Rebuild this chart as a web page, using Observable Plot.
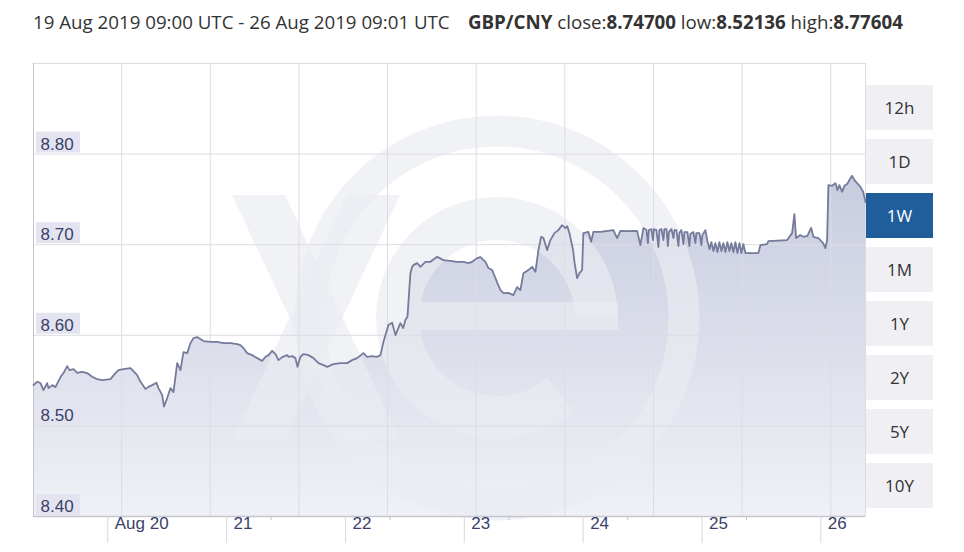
<!DOCTYPE html>
<html><head><meta charset="utf-8">
<script src="https://cdn.jsdelivr.net/npm/d3@7"></script>
<script src="https://cdn.jsdelivr.net/npm/@observablehq/plot@0.6"></script>
<style>
body{margin:0;background:#fff;}
#wrap{position:relative;width:964px;height:552px;overflow:hidden;font-family:"Open Sans",sans-serif;}
#hdr{position:absolute;left:33px;top:11px;line-height:22px;color:#333;white-space:nowrap;}
#hdr2{position:absolute;left:468px;top:11px;line-height:22px;color:#333;white-space:nowrap;}
#hdr b,#hdr2 b{font-weight:700;}
#chart{position:absolute;left:0;top:50px;}
.btn{position:absolute;left:866px;width:67px;height:45px;background:#efeff4;color:#333;font-size:17px;display:flex;align-items:center;justify-content:center;}
.btn.on{background:#1f5d9b;color:#fff;}
</style></head>
<body><div id="wrap"><div id="hdr"></div><div id="hdr2"></div><div id="chart"></div></div>
<script>
// ---- data (hours after 19 Aug 2019 09:00 UTC, GBP/CNY rate) ----
const hours = [0.00,0.75,1.41,2.02,2.77,3.03,3.78,4.44,5.45,6.06,6.80,7.27,8.08,8.82,9.83,10.84,11.85,12.86,13.87,15.55,
16.56,17.16,18.17,19.59,20.19,20.94,21.61,22.62,23.22,23.97,24.84,25.24,25.99,26.35,27.00,27.66,28.27,29.02,29.68,30.29,
31.04,31.70,32.31,33.05,34.33,35.74,37.09,38.36,39.78,41.13,41.80,42.40,43.15,44.16,45.17,46.18,46.85,47.45,48.20,48.86,
49.47,50.22,51.23,51.49,52.24,52.90,53.31,53.91,54.52,55.53,56.54,57.55,58.56,59.30,60.58,61.99,63.34,64.35,65.36,66.63,
67.38,68.39,69.40,70.07,70.61,71.08,71.68,72.43,73.10,74.10,74.65,75.11,75.52,76.12,76.47,76.73,77.48,78.14,79.15,80.16,
81.52,82.79,84.20,85.56,86.83,87.84,88.58,89.59,90.26,91.27,91.87,92.62,93.29,93.69,94.30,94.90,95.91,96.92,97.67,98.33,
98.94,99.95,100.70,101.36,101.97,102.51,102.98,103.73,104.39,105.20,106.01,106.75,107.42,107.77,108.23,108.98,109.24,109.78,110.25,110.79,
111.05,112.06,112.61,113.07,114.49,117.11,117.86,118.53,120.14,121.90,122.56,123.17,123.78,124.08,124.28,124.79,125.09,125.29,125.80,126.20,
126.41,126.81,127.21,127.41,127.82,128.12,128.32,128.83,129.23,129.43,129.83,130.24,130.44,130.84,131.25,131.45,132.06,132.46,132.66,133.27,
133.67,133.87,134.48,134.88,135.08,135.69,136.09,136.50,136.90,137.30,137.71,138.11,138.52,138.92,139.32,139.73,140.13,140.54,140.94,141.34,
141.75,142.15,142.56,142.96,143.36,143.77,144.37,146.39,146.80,148.15,148.41,152.19,153.20,153.66,154.00,154.87,155.48,156.29,157.04,157.50,
158.51,159.46,159.92,160.27,160.53,161.28,161.94,162.35,162.75,163.30,163.76,164.31,164.77,165.32,165.78,166.33,166.99,167.54,168.02];
const rates = [8.5450,8.5487,8.5472,8.5395,8.5472,8.5417,8.5450,8.5428,8.5539,8.5583,8.5660,8.5616,8.5627,8.5586,8.5597,8.5583,8.5542,8.5517,8.5505,8.5517,
8.5583,8.5616,8.5627,8.5638,8.5605,8.5561,8.5487,8.5406,8.5431,8.5450,8.5476,8.5417,8.5340,8.5214,8.5307,8.5417,8.5373,8.5693,8.5616,8.5814,
8.5803,8.5914,8.5969,8.5980,8.5936,8.5928,8.5928,8.5914,8.5914,8.5903,8.5892,8.5859,8.5803,8.5781,8.5748,8.5718,8.5763,8.5781,8.5829,8.5792,
8.5726,8.5759,8.5781,8.5763,8.5770,8.5748,8.5652,8.5763,8.5792,8.5781,8.5748,8.5693,8.5671,8.5652,8.5682,8.5693,8.5693,8.5726,8.5748,8.5803,
8.5763,8.5770,8.5763,8.5781,8.5914,8.6002,8.6113,8.6138,8.6002,8.6135,8.6079,8.6168,8.6204,8.6686,8.6756,8.6775,8.6797,8.6756,8.6811,8.6811,
8.6866,8.6830,8.6822,8.6811,8.6811,8.6797,8.6811,8.6852,8.6863,8.6811,8.6742,8.6720,8.6631,8.6576,8.6499,8.6466,8.6469,8.6444,8.6532,8.6499,
8.6686,8.6720,8.6756,8.6701,8.6940,8.7087,8.7073,8.6940,8.7051,8.7128,8.7161,8.7216,8.7183,8.7205,8.7128,8.6940,8.6811,8.6631,8.6686,8.6720,
8.7128,8.7142,8.7032,8.7142,8.7142,8.7161,8.7073,8.7153,8.7150,8.7153,8.6996,8.7183,8.7161,8.7018,8.7161,8.7172,8.7051,8.7172,8.7161,8.6973,
8.7161,8.7172,8.7051,8.7172,8.7172,8.6985,8.7139,8.7172,8.7073,8.7161,8.7161,8.6985,8.7128,8.7161,8.7007,8.7139,8.7139,8.6985,8.7117,8.7139,
8.7018,8.7128,8.7128,8.6996,8.7106,8.7161,8.7040,8.6951,8.7029,8.6929,8.7018,8.6918,8.7029,8.6929,8.7018,8.6918,8.7029,8.6929,8.7018,8.6918,
8.7029,8.6907,8.7018,8.6907,8.7007,8.6907,8.6907,8.6907,8.6996,8.7007,8.7040,8.7051,8.7128,8.7338,8.7073,8.7106,8.7087,8.7098,8.7187,8.7087,
8.7073,8.7018,8.6962,8.7051,8.7658,8.7650,8.7680,8.7603,8.7658,8.7584,8.7650,8.7669,8.7713,8.7760,8.7713,8.7680,8.7639,8.7584,8.7470];
const yTicks = [8.40, 8.50, 8.60, 8.70, 8.80];
const gridHours = [17.8, 35.7, 53.6, 71.5, 89.4, 107.3, 125.2, 143.1, 161.0];
const dayLabels = ["Aug 20", "21", "22", "23", "24", "25", "26"];
const buttons = ["12h", "1D", "1W", "1M", "1Y", "2Y", "5Y", "10Y"];
const activeButton = "1W";
const rangeText = "19 Aug 2019 09:00 UTC - 26 Aug 2019 09:01 UTC";
const pair = "GBP/CNY";
const closeVal = "8.74700", lowVal = "8.52136", highVal = "8.77604";
const totalHours = 168.02;

// ---- header ----
const hdr = document.getElementById("hdr");
hdr.textContent = rangeText;
const hdr2 = document.getElementById("hdr2");
hdr2.innerHTML = `<b>${pair}</b> close:<b>${closeVal}</b> low:<b>${lowVal}</b> high:<b>${highVal}</b>`;
hdr.style.fontSize = hdr2.style.fontSize = "16px";
const w1 = hdr.getBoundingClientRect().width;
const fs = 16 * 417 / w1;
hdr.style.fontSize = hdr2.style.fontSize = fs + "px";

// ---- buttons ----
const wrap = document.getElementById("wrap");
buttons.forEach((b, i) => {
  const d = document.createElement("div");
  d.className = "btn" + (b === activeButton ? " on" : "");
  d.style.top = (85 + 54 * i) + "px";
  d.textContent = b;
  wrap.appendChild(d);
});

// ---- chart ----
const start = Date.UTC(2019, 7, 19, 9);
const toDate = h => new Date(start + h * 3600e3);
const data = hours.map((h, i) => ({date: toDate(h), rate: rates[i]}));
const dayDates = dayLabels.map((_, i) => new Date(Date.UTC(2019, 7, 20 + i)));
const nineDates = d3.range(1, 7).map(i => new Date(Date.UTC(2019, 7, 19 + i, 9)));
const gridDates = gridHours.map(toDate);
const labelColor = "#3b3f6b";

const defs = (index, scales, values, dims) => {
  const g = d3.create("svg:defs");
  const lg = g.append("linearGradient").attr("id", "fillGrad")
    .attr("gradientUnits", "userSpaceOnUse").attr("x1", 0).attr("x2", 0)
    .attr("y1", dims.marginTop).attr("y2", dims.height - dims.marginBottom);
  lg.append("stop").attr("offset", "0%").attr("stop-color", "#babfd7");
  lg.append("stop").attr("offset", "100%").attr("stop-color", "#f0f1f6");
  return g.node();
};

const watermark = (index, scales, values, dims) => {
  const ox = dims.marginLeft, oy = dims.marginTop;
  const g = d3.create("svg:g").attr("fill", "#ebecf2").attr("fill-opacity", 0.68)
    .attr("transform", `translate(${ox},${oy})`);
  // decorative "xe" logo, relative to the frame's top-left corner
  const cx = 464, cy = 255;
  g.append("circle").attr("cx", cx).attr("cy", cy).attr("r", 187)
    .attr("fill", "none").attr("stroke", "#ebecf2").attr("stroke-opacity", 0.68).attr("stroke-width", 31);
  const arc = d3.arc().innerRadius(78).outerRadius(121)
    .startAngle(Math.PI * 0.78).endAngle(Math.PI * 2.5);
  g.append("path").attr("transform", `translate(${cx},${cy})`).attr("d", arc());
  g.append("rect").attr("x", cx - 78).attr("y", cy - 16).attr("width", 199).attr("height", 28);
  g.append("polygon").attr("points", "199,132 252,132 367,377 314,377");
  g.append("polygon").attr("points", "314,132 367,132 252,377 199,377");
  return g.node();
};

const boxes = (index, scales, values, dims) => {
  const g = d3.create("svg:g").attr("fill", "#e3e4f0");
  for (const t of yTicks) {
    g.append("rect").attr("x", dims.marginLeft + 3).attr("y", scales.y(t) - 22)
      .attr("width", 44).attr("height", 21);
  }
  return g.node();
};

const chart = Plot.plot({
  width: 964,
  height: 502,
  marginLeft: 33,
  marginRight: 99,
  marginTop: 13,
  marginBottom: 36,
  style: {fontFamily: "'Liberation Sans', Arial, sans-serif", fontSize: "17px", background: "transparent", overflow: "visible"},
  x: {type: "utc", domain: [toDate(0), toDate(totalHours)], label: null},
  y: {domain: [8.4, 8.9], axis: null, label: null},
  marks: [
    defs,
    Plot.areaY(data, {x: "date", y1: 8.4, y2: "rate", fill: "url(#fillGrad)", curve: "linear"}),
    watermark,
    Plot.ruleX(gridDates, {stroke: "#dcdce4", strokeWidth: 1}),
    Plot.ruleY([8.5, 8.6, 8.7, 8.8], {stroke: "#dcdce4", strokeWidth: 1}),
    Plot.frame({stroke: "#dcdce4"}),
    Plot.ruleY([8.4], {stroke: "#c4c5cf", strokeWidth: 1.5}),
    Plot.ruleX([toDate(0)], {stroke: "#c4c5cf", strokeWidth: 1}),
    Plot.lineY(data, {x: "date", y: "rate", stroke: "#767b9c", strokeWidth: 1.8, curve: "linear"}),
    boxes,
    Plot.text(yTicks, {y: d => d, frameAnchor: "left", text: d => d.toFixed(2), textAnchor: "start", dx: 7, dy: -10, fill: labelColor, fontSize: 17}),
    Plot.axisX(dayDates, {tickSize: 27, fill: "none", stroke: "#d8d8e0"}),
    Plot.axisX(nineDates, {tickSize: 4, fill: "none", stroke: "#c4c5cf"}),
    Plot.text(dayDates, {x: d => d, text: (d, i) => dayLabels[i], frameAnchor: "bottom", textAnchor: "start", dx: 7, dy: 12, fill: labelColor, fontSize: 17})
  ]
});
document.getElementById("chart").appendChild(chart);
</script>
</body></html>
